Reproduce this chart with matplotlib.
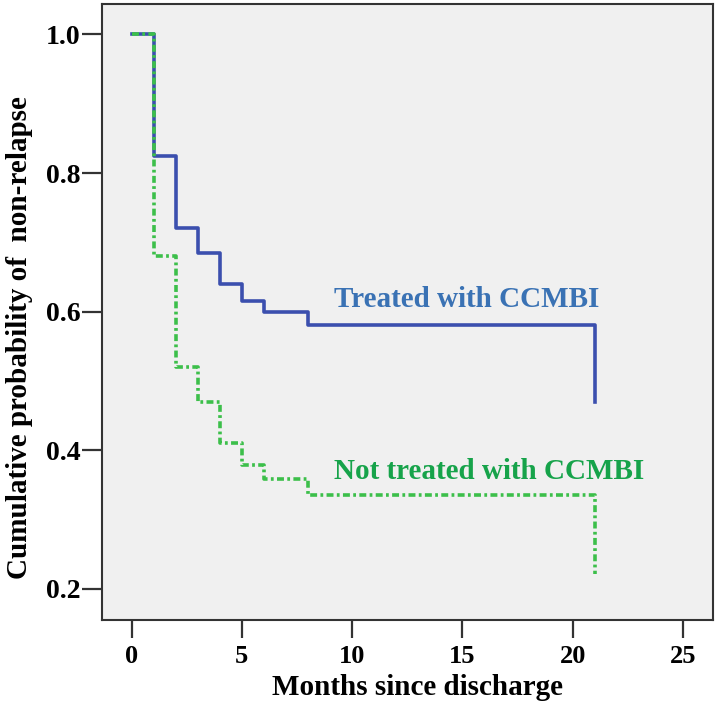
import numpy as np
import matplotlib
matplotlib.use('Agg')
import matplotlib.pyplot as plt

# survival curve data (months since discharge, cumulative probability)
months = [0, 1, 2, 3, 4, 5, 6, 8, 21]
treated = [1.0, 0.825, 0.72, 0.685, 0.64, 0.615, 0.60, 0.58, 0.47]
not_treated = [1.0, 0.68, 0.52, 0.47, 0.41, 0.378, 0.358, 0.335, 0.222]

x_ticks = [0, 5, 10, 15, 20, 25]
y_ticks = [0.2, 0.4, 0.6, 0.8, 1.0]

plt.rcParams['font.family'] = 'Liberation Serif'
plt.rcParams['font.weight'] = 'bold'
plt.rcParams['lines.scale_dashes'] = False

fig = plt.figure(figsize=(7.18, 7.09), dpi=100)
ax = fig.add_axes([0.142, 0.1255, 0.851, 0.869])
ax.set_facecolor('#f0f0f0')

# curves
ax.step(months, treated, where='post', color='#3b4fae', lw=2.6)
ax.step(months, not_treated, where='post', color='#3cbf4a', lw=2.6,
        dashes=(5, 2.4, 2, 2.4))

# labels on the curves
ax.text(9.2, 0.618, 'Treated with CCMBI', color='#3a72b4', fontsize=21,
        fontweight='bold', va='center', ha='left')
ax.text(9.2, 0.370, 'Not treated with CCMBI', color='#16a34a', fontsize=21,
        fontweight='bold', va='center', ha='left')

# axes formatting
ax.set_xlim(-1.34, 26.36)
ax.set_ylim(0.155, 1.044)
ax.set_xticks(x_ticks)
ax.set_yticks(y_ticks)
ax.set_yticklabels(['{:.1f}'.format(v) for v in y_ticks])
ax.tick_params(direction='out', width=1.6, color='#333333')
ax.tick_params(axis='x', length=13, pad=5, labelsize=19)
ax.tick_params(axis='y', length=14.5, pad=1, labelsize=20)
for s in ax.spines.values():
    s.set_color('#333333')
    s.set_linewidth(1.5)

ax.set_xlabel('Months since discharge', fontsize=21, fontweight='bold')
ax.xaxis.set_label_coords(0.516, -0.0877)
ax.set_ylabel('Cumulative probability of  non-relapse', fontsize=21,
              fontweight='bold')
ax.yaxis.set_label_coords(-0.113, 0.459)

fig.savefig('out.png', dpi=100)
